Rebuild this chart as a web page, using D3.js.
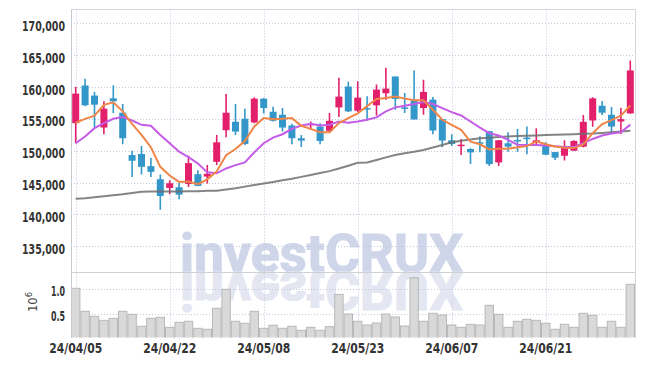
<!DOCTYPE html>
<html><head><meta charset="utf-8">
<script src="https://cdn.jsdelivr.net/npm/d3@7"></script>
<style>
html,body{margin:0;padding:0;background:#fff;}
svg{display:block;}
</style></head>
<body><div id="chart"></div>
<script>
const dates = [
 "24/04/05","24/04/08","24/04/09","24/04/11","24/04/12","24/04/15","24/04/16","24/04/17","24/04/18","24/04/19",
 "24/04/22","24/04/23","24/04/24","24/04/25","24/04/26","24/04/29","24/04/30","24/05/02","24/05/03","24/05/07",
 "24/05/08","24/05/09","24/05/10","24/05/13","24/05/14","24/05/16","24/05/17","24/05/20","24/05/21","24/05/22",
 "24/05/23","24/05/24","24/05/27","24/05/28","24/05/29","24/05/30","24/05/31","24/06/03","24/06/04","24/06/05",
 "24/06/07","24/06/10","24/06/11","24/06/12","24/06/13","24/06/14","24/06/17","24/06/18","24/06/19","24/06/20",
 "24/06/21","24/06/24","24/06/25","24/06/26","24/06/27","24/06/28","24/07/01","24/07/02","24/07/03","24/07/04"];
const opens = [
 154330,160240,158660,153640,158230,155970,149320,149480,147580,145520,
 144150,144260,144790,146310,145940,148260,153220,154540,155020,154440,
 158180,156120,155650,153960,151960,154010,153800,153120,156810,160080,
 156280,156700,157130,159020,161660,156810,157860,156700,158020,154960,
 151640,150800,150270,151320,153060,148160,151170,151690,152060,151320,
 150740,149790,149210,150000,150640,154750,157070,155650,154590,155860];
const highs = [
 160030,161290,159240,157760,160290,157340,150000,150740,148900,146260,
 145360,144940,149210,146950,147740,152480,158920,157340,156600,158390,
 158290,156910,156700,154220,152480,154590,154330,155910,161450,160820,
 160920,158550,160400,163030,161660,159080,162610,161130,158440,155000,
 152590,151850,150400,152270,153100,151700,152910,153430,153800,153540,
 151320,149800,151640,151640,155600,158390,157810,156860,156700,164190];
const lows = [
 151170,157000,153700,152590,155910,151010,145890,146260,145890,140730,
 143150,142360,144310,144410,144840,147740,152120,152480,150900,154330,
 155860,154590,153010,151010,150590,153330,151010,152800,155280,156070,
 156070,154750,155540,158020,156440,155910,154910,155650,152590,150530,
 150740,149320,147900,149740,147580,147580,149850,149850,149430,150800,
 149300,148530,148480,149950,150530,153750,155600,152700,152640,155800];
const closes = [
 158970,157130,157230,156600,157760,151960,148420,147470,146680,142890,
 144890,143100,148050,144470,146370,151320,155970,153010,151060,158180,
 156700,154700,153640,151960,151590,154220,151530,154700,158500,156180,
 158340,156550,159600,159760,158130,156650,154910,159240,153170,151590,
 151060,150950,149740,151110,147900,151640,150640,151530,151900,151640,
 149370,148900,150590,151530,154540,158230,155970,153800,154960,162610];
// volume in millions
const volumes = [
 1.008,0.553,0.454,0.375,0.415,0.553,0.494,0.257,0.415,0.435,
 0.237,0.336,0.356,0.217,0.198,0.613,0.988,0.356,0.316,0.553,
 0.217,0.277,0.217,0.257,0.178,0.237,0.178,0.250,0.889,0.500,
 0.356,0.283,0.322,0.500,0.441,0.263,1.217,0.356,0.514,0.480,
 0.283,0.237,0.296,0.283,0.672,0.494,0.237,0.356,0.395,0.375,
 0.316,0.198,0.296,0.237,0.514,0.474,0.237,0.356,0.237,1.087];
// moving averages (thousands)
const maShort = [
 154.4,155.0,155.5,157.2,157.6,156.18,154.2,152.48,150.55,147.47,
 146.1,145.1,145.15,144.75,145.5,146.75,149.3,150.27,151.53,153.8,
 155.12,154.96,155.02,155.12,153.91,153.43,152.91,152.91,154.33,155.12,
 155.88,157.0,158.13,158.29,158.5,158.18,157.92,157.92,156.44,154.86,
 154.07,153.28,151.43,151.01,150.2,150.3,150.3,150.56,150.72,151.47,
 151.02,150.67,150.48,150.41,150.99,152.76,154.17,154.81,155.5,157.11];
const maMid = [
 151.17,152.22,153.54,154.33,155.02,155.28,154.75,154.07,153.91,152.48,
 151.17,149.85,149.0,148.0,146.6,146.45,147.21,147.74,148.16,149.75,
 151.17,152.06,152.59,153.43,153.96,154.22,153.96,154.07,154.59,154.4,
 154.59,154.86,155.23,156.18,156.81,157.07,157.34,157.65,157.34,156.70,
 156.07,155.54,154.59,153.64,152.75,152.38,151.69,150.95,150.9,150.9,
 150.8,150.7,150.6,150.6,151.2,151.85,152.38,152.7,152.9,154.1];
const maLong = [
 142.46,142.55,142.7,142.85,143.0,143.15,143.35,143.55,143.6,143.6,
 143.6,143.6,143.62,143.65,143.7,143.73,143.9,144.1,144.36,144.6,
 144.85,145.1,145.35,145.6,145.89,146.2,146.5,146.79,147.2,147.65,
 148.11,148.16,148.55,148.95,149.32,149.6,149.85,150.11,150.5,150.9,
 151.32,151.55,151.75,151.96,152.05,152.15,152.22,152.3,152.35,152.4,
 152.48,152.52,152.56,152.6,152.65,152.7,152.8,152.9,153.0,153.12];
const priceTicks = [135000,140000,145000,150000,155000,160000,165000,170000];
const volTicks = [0.5,1.0];
const labelIdx = [0,10,20,30,40,50];

const W=645,H=366, L=71, R=635, PT=9.5, PB=272, VB=337.5;
const svg = d3.select("#chart").append("svg").attr("width",W).attr("height",H);
const x = d3.scaleBand().domain(d3.range(dates.length)).range([L,R]).padding(0);
const cx = i => x(i)+x.bandwidth()/2;
const yP = d3.scaleLinear().domain([135000,170000]).range([246.2,23.4]);
const yV = d3.scaleLinear().domain([0,1]).range([339.3,288.7]);
const gridColor = "#c3c7dd";
const labelFont = "'DejaVu Sans Condensed','DejaVu Sans',sans-serif";
const wmFont = "Roboto,'Liberation Sans',Arial,sans-serif";

const defs = svg.append("defs");
defs.append("clipPath").attr("id","cp").append("rect").attr("x",L).attr("y",PT).attr("width",R-L).attr("height",PB-PT);
defs.append("clipPath").attr("id","cv").append("rect").attr("x",L).attr("y",PB).attr("width",R-L).attr("height",VB-PB);
const grad = defs.append("linearGradient").attr("id","refl").attr("gradientUnits","userSpaceOnUse")
  .attr("x1",0).attr("y1",272).attr("x2",0).attr("y2",310);
grad.append("stop").attr("offset","0%").attr("stop-color","#e3e6f0").attr("stop-opacity",1);
grad.append("stop").attr("offset","60%").attr("stop-color","#e3e6f0").attr("stop-opacity",0.9);
grad.append("stop").attr("offset","100%").attr("stop-color","#e3e6f0").attr("stop-opacity",0.3);

// watermark
const wm = svg.append("g");
wm.append("text").attr("x",180).attr("y",271.7).attr("font-family",wmFont)
  .attr("font-weight","bold").attr("font-size",53).attr("textLength",283).attr("lengthAdjust","spacingAndGlyphs")
  .attr("fill","#d0d6ea").attr("stroke","#d0d6ea").attr("stroke-width",1.2).text("investCRUX");
wm.append("g").attr("transform","translate(0,543.4) scale(1,-1)")
  .append("text").attr("x",180).attr("y",271.7)
  .attr("font-family",wmFont).attr("font-weight","bold").attr("font-size",53)
  .attr("textLength",283).attr("lengthAdjust","spacingAndGlyphs").attr("fill","#e4e7f1")
  .attr("stroke","#e4e7f1").attr("stroke-width",1.2).text("investCRUX");

// grid
const grid = svg.append("g").attr("stroke",gridColor).attr("stroke-width",1).attr("stroke-dasharray","1,2");
grid.selectAll(".hp").data(priceTicks).join("line").attr("x1",L).attr("x2",R)
  .attr("y1",d=>Math.round(yP(d))+0.5).attr("y2",d=>Math.round(yP(d))+0.5);
grid.selectAll(".hv").data(volTicks).join("line").attr("x1",L).attr("x2",R)
  .attr("y1",d=>Math.round(yV(d))+0.5).attr("y2",d=>Math.round(yV(d))+0.5);
grid.selectAll(".vv").data(labelIdx).join("line").attr("y1",PT).attr("y2",VB)
  .attr("x1",d=>Math.round(cx(d))+0.5).attr("x2",d=>Math.round(cx(d))+0.5);

// volume bars
svg.append("g").attr("clip-path","url(#cv)").selectAll("rect").data(volumes).join("rect")
  .attr("x",(d,i)=>x(i)+0.5).attr("width",x.bandwidth()-1)
  .attr("y",d=>yV(d)).attr("height",d=>VB-yV(d)+2)
  .attr("fill","#d9d9d9").attr("stroke","#b8b8b8").attr("stroke-width",1);

// candles
const up = "#e3206b", down = "#3497c9";
const cg = svg.append("g").attr("clip-path","url(#cp)");
const candles = cg.selectAll("g").data(dates.map((d,i)=>i)).join("g");
candles.append("line").attr("x1",i=>cx(i)).attr("x2",i=>cx(i))
  .attr("y1",i=>yP(highs[i])).attr("y2",i=>yP(lows[i]))
  .attr("stroke",i=>closes[i]>=opens[i]?up:down).attr("stroke-width",1.6);
candles.append("rect").attr("x",i=>cx(i)-3.5).attr("width",7)
  .attr("y",i=>yP(Math.max(opens[i],closes[i])))
  .attr("height",i=>Math.max(1.5, Math.abs(yP(opens[i])-yP(closes[i]))))
  .attr("fill",i=>closes[i]>=opens[i]?up:down);

// moving averages
const line = d3.line().x((d,i)=>cx(i)).y(d=>yP(d*1000));
cg.append("path").datum(maLong).attr("d",line).attr("fill","none").attr("stroke","#6e6e6e").attr("stroke-opacity",0.85).attr("stroke-width",2);
cg.append("path").datum(maMid).attr("d",line).attr("fill","none").attr("stroke","#c55ce8").attr("stroke-width",2);
cg.append("path").datum(maShort).attr("d",line).attr("fill","none").attr("stroke","#ef8549").attr("stroke-width",2);

// frame
const fr = svg.append("g").attr("stroke","#d4d4dc").attr("stroke-width",1);
fr.append("line").attr("x1",L).attr("x2",R).attr("y1",PT).attr("y2",PT);
fr.append("line").attr("x1",R+0.5).attr("x2",R+0.5).attr("y1",PT).attr("y2",VB);
fr.append("line").attr("x1",L).attr("x2",R).attr("y1",PB+0.5).attr("y2",PB+0.5).attr("stroke","#cfcfd4");
fr.append("line").attr("x1",L+0.5).attr("x2",L+0.5).attr("y1",PT).attr("y2",VB).attr("stroke","#c8c8d0");

// axes
const ay = svg.append("g").attr("transform",`translate(${L-6},0)`)
  .call(d3.axisLeft(yP).tickValues(priceTicks).tickSize(0).tickPadding(0).tickFormat(d3.format(",")));
ay.select(".domain").remove();
ay.selectAll("text").attr("font-family",labelFont).attr("font-weight","bold").attr("font-size",14)
  .attr("fill","#333").attr("dy","0.5em").attr("textLength",43).attr("lengthAdjust","spacingAndGlyphs");
const av = svg.append("g").attr("transform",`translate(${L-6},0)`)
  .call(d3.axisLeft(yV).tickValues(volTicks).tickSize(0).tickPadding(0).tickFormat(d3.format(".1f")));
av.select(".domain").remove();
av.selectAll("text").attr("font-family",labelFont).attr("font-weight","bold").attr("font-size",14)
  .attr("fill","#333").attr("dy","0.45em").attr("textLength",14).attr("lengthAdjust","spacingAndGlyphs");
const ax = svg.append("g").attr("transform",`translate(0,${VB})`)
  .call(d3.axisBottom(x).tickValues(labelIdx).tickSize(0).tickPadding(0).tickFormat(i=>dates[i]));
ax.select(".domain").remove();
ax.selectAll("text").attr("font-family",labelFont).attr("font-weight","bold").attr("font-size",14)
  .attr("fill","#333").attr("dy",0).attr("y",15.8).attr("textLength",53).attr("lengthAdjust","spacingAndGlyphs");

// volume unit label
const ul = svg.append("text").attr("transform","translate(37,312) rotate(-90)")
  .attr("font-family","'DejaVu Sans',sans-serif").attr("font-size",11.5).attr("fill","#444");
ul.append("tspan").text("10");
ul.append("tspan").attr("dy",-5).attr("font-size",8.5).text("6");
</script>
</body></html>
